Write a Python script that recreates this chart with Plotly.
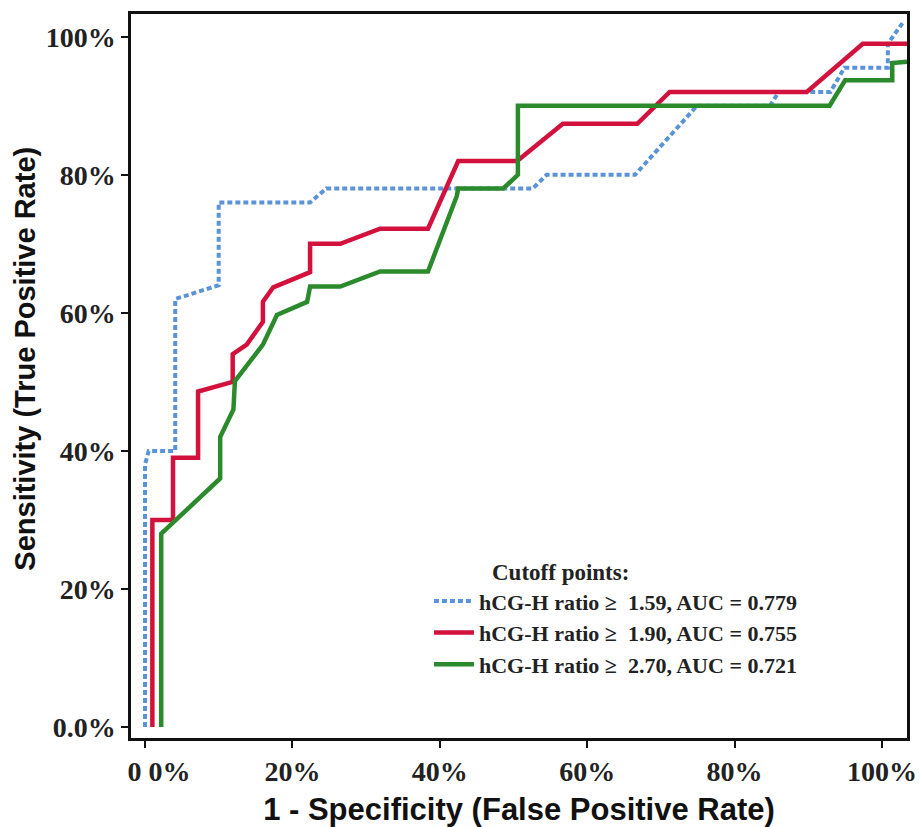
import plotly.graph_objects as go

# ---- data (percent) ----
fpr_159 = [0, 0, 0.5, 4.1, 4.1, 10.0, 10.0, 22.4, 24.6, 52.6, 54.5, 66.5, 74.9, 84.8, 86.0, 90.5, 93.0, 94.9, 100.8, 100.8, 102.8]
tpr_159 = [0, 38, 40, 40, 62, 64, 76, 76, 78, 78, 80, 80, 90, 90, 92, 92, 92, 95.5, 95.5, 99, 102]

fpr_190 = [1.0, 1.0, 3.8, 3.8, 7.2, 7.2, 11.9, 11.9, 13.8, 16.0, 16.0, 17.4, 22.4, 22.4, 26.5, 31.9, 38.4, 42.1, 42.5, 50.5, 56.7, 66.8, 71.2, 89.8, 97.4, 103.4]
tpr_190 = [0, 30, 30, 39, 39, 48.6, 50, 54, 55.4, 58.7, 61.6, 63.7, 65.9, 70, 70, 72.2, 72.2, 80.7, 82, 82, 87.4, 87.4, 92, 92, 99, 99]

fpr_270 = [2.2, 2.2, 10.2, 10.2, 12.0, 12.2, 16.0, 17.9, 22.0, 22.4, 26.5, 31.9, 38.4, 42.3, 42.5, 48.6, 50.6, 50.6, 92.9, 95.0, 101.4, 101.4, 103.4]
tpr_270 = [0, 28, 36, 42, 46, 50.1, 55.4, 59.7, 61.6, 63.8, 63.8, 66, 66, 76.9, 78, 78, 80, 90, 90, 93.7, 93.7, 96.2, 96.4]

series_names = [
    "hCG-H ratio \u2265 \u00a01.59, AUC = 0.779",
    "hCG-H ratio \u2265 \u00a01.90, AUC = 0.755",
    "hCG-H ratio \u2265 \u00a02.70, AUC = 0.721",
]
tick_vals = [0, 20, 40, 60, 80, 100]
x_tick_text = ["\u00a0\u00a0\u00a0\u00a00 0%", "20%", "40%", "60%", "80%", "100%"]
y_tick_text = ["0.0%", "20%", "40%", "60%", "80%", "100%"]

colors = ["#5b93d8", "#d2123c", "#2b8a2b"]
dashes = ["5px,3px", "solid", "solid"]

fig = go.Figure()
for xs, ys, name, c, d in zip([fpr_159, fpr_190, fpr_270], [tpr_159, tpr_190, tpr_270],
                              series_names, colors, dashes):
    fig.add_trace(go.Scatter(x=xs, y=ys, mode="lines", name=name,
                             line=dict(color=c, width=4.5 if d == "solid" else 4, dash=d)))

serif = "Liberation Serif"
sans = "Liberation Sans"

fig.update_layout(
    width=920, height=827,
    margin=dict(l=131, r=13, t=14, b=89, autoexpand=False),
    plot_bgcolor="white", paper_bgcolor="white",
    showlegend=True,
    legend=dict(x=0.384, y=0.218, xanchor="left", yanchor="top",
                bgcolor="rgba(0,0,0,0)", itemwidth=40,
                font=dict(family=serif, size=22, color="#222", weight="bold"),
                tracegroupgap=0),
    annotations=[
        dict(text="Cutoff points:", xref="paper", yref="paper",
             x=0.463, y=0.229, xanchor="left", yanchor="middle",
             showarrow=False,
             font=dict(family=serif, size=23, color="#222", weight="bold")),
        dict(text="Sensitivity (True Positive Rate)", xref="paper", yref="paper",
             x=-0.137, y=0.5235, xanchor="center", yanchor="middle", textangle=-90,
             showarrow=False,
             font=dict(family=sans, size=29, color="#111", weight="bold")),
    ],
)
fig.update_xaxes(range=[-1.9, 103.4], tickvals=tick_vals, ticktext=x_tick_text,
                 automargin=False,
                 showgrid=False, zeroline=False, showline=True, mirror=True,
                 linecolor="#111", linewidth=2.5, ticks="outside", ticklen=7, tickwidth=2,
                 tickcolor="#111",
                 tickfont=dict(family=serif, size=28, color="#222", weight="bold"),
                 title=dict(text="1 - Specificity (False Positive Rate)",
                            font=dict(family=sans, size=31, color="#111", weight="bold"),
                            standoff=20))
fig.update_yaxes(range=[-1.6, 103.3], tickvals=tick_vals, ticktext=y_tick_text,
                 automargin=False,
                 showgrid=False, zeroline=False, showline=True, mirror=True,
                 linecolor="#111", linewidth=2.5, ticks="outside", ticklen=7, tickwidth=2,
                 tickcolor="#111",
                 tickfont=dict(family=serif, size=28, color="#222", weight="bold"))
fig.write_html("out.html", config={"displayModeBar": False},
               post_script="document.body.style.margin='0px';")
